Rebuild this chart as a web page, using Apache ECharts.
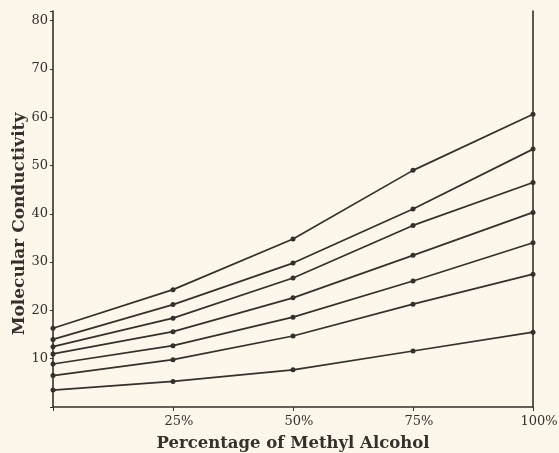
<!DOCTYPE html>
<html>
<head>
<meta charset="utf-8">
<script src="https://cdn.jsdelivr.net/npm/echarts@6/dist/echarts.min.js"></script>
<style>
  html, body { margin: 0; padding: 0; background: #fcf7ea; }
  #chart { width: 559px; height: 453px; }
</style>
</head>
<body>
<div id="chart"></div>
<script>
// Percentage of methyl alcohol in the solvent
const methylPercent = [0, 25, 50, 75, 100];

// Molecular conductivity curves, top to bottom
const curve1 = [16.3, 24.3, 34.8, 49.0, 60.6];
const curve2 = [14.0, 21.2, 29.8, 41.0, 53.4];
const curve3 = [12.5, 18.4, 26.7, 37.6, 46.5];
const curve4 = [11.0, 15.6, 22.6, 31.4, 40.3];
const curve5 = [8.9, 12.7, 18.6, 26.1, 34.0];
const curve6 = [6.5, 9.8, 14.7, 21.3, 27.5];
const curve7 = [3.5, 5.3, 7.7, 11.6, 15.5];

const curves = [curve1, curve2, curve3, curve4, curve5, curve6, curve7];

const ink = '#34302b';
const serif = '"DejaVu Serif", "Liberation Serif", serif';

const chart = echarts.init(document.getElementById('chart'));
chart.setOption({
  backgroundColor: '#fcf7ea',
  animation: false,
  grid: { left: 53, right: 26, top: 11, bottom: 46, outerBoundsMode: 'none', containLabel: false },
  xAxis: {
    type: 'value',
    min: 0, max: 100, interval: 25,
    name: 'Percentage of Methyl Alcohol',
    nameLocation: 'middle',
    nameGap: 28,
    nameMoveOverlap: false,
    nameTextStyle: { fontFamily: serif, fontSize: 16.5, fontWeight: 'bold', color: ink },
    axisLine: { lineStyle: { color: ink, width: 1.6 } },
    axisTick: { lineStyle: { color: ink }, length: 4 },
    axisLabel: {
      fontFamily: serif, fontSize: 13, color: ink, margin: 8,
      padding: [0, 0, 0, 12],
      formatter: v => (v === 0 ? '' : v + '%')
    },
    splitLine: { show: false }
  },
  yAxis: [{
    type: 'value',
    min: 0, max: 82, interval: 10,
    name: 'Molecular Conductivity',
    nameLocation: 'middle',
    nameGap: 25,
    nameMoveOverlap: false,
    nameTextStyle: { fontFamily: serif, fontSize: 17, fontWeight: 'bold', color: ink, padding: [0, 30, 0, 0] },
    axisLine: { show: true, lineStyle: { color: ink, width: 1.6 } },
    axisTick: { lineStyle: { color: ink }, length: 3 },
    axisLabel: {
      fontFamily: serif, fontSize: 13, color: ink, margin: 5,
      formatter: v => (v === 0 || v > 80 ? '' : String(v))
    },
    splitLine: { show: false }
  }, {
    type: 'value',
    position: 'right',
    min: 0, max: 82, interval: 10,
    axisLine: { show: true, lineStyle: { color: ink, width: 1.6 } },
    axisTick: { show: false },
    axisLabel: { show: false },
    splitLine: { show: false }
  }],
  series: curves.map(vals => ({
    type: 'line',
    data: methylPercent.map((p, i) => [p, vals[i]]),
    symbol: 'circle',
    symbolSize: 5,
    showSymbol: true,
    lineStyle: { color: ink, width: 1.7 },
    itemStyle: { color: ink },
    clip: false
  }))
});
</script>
</body>
</html>
